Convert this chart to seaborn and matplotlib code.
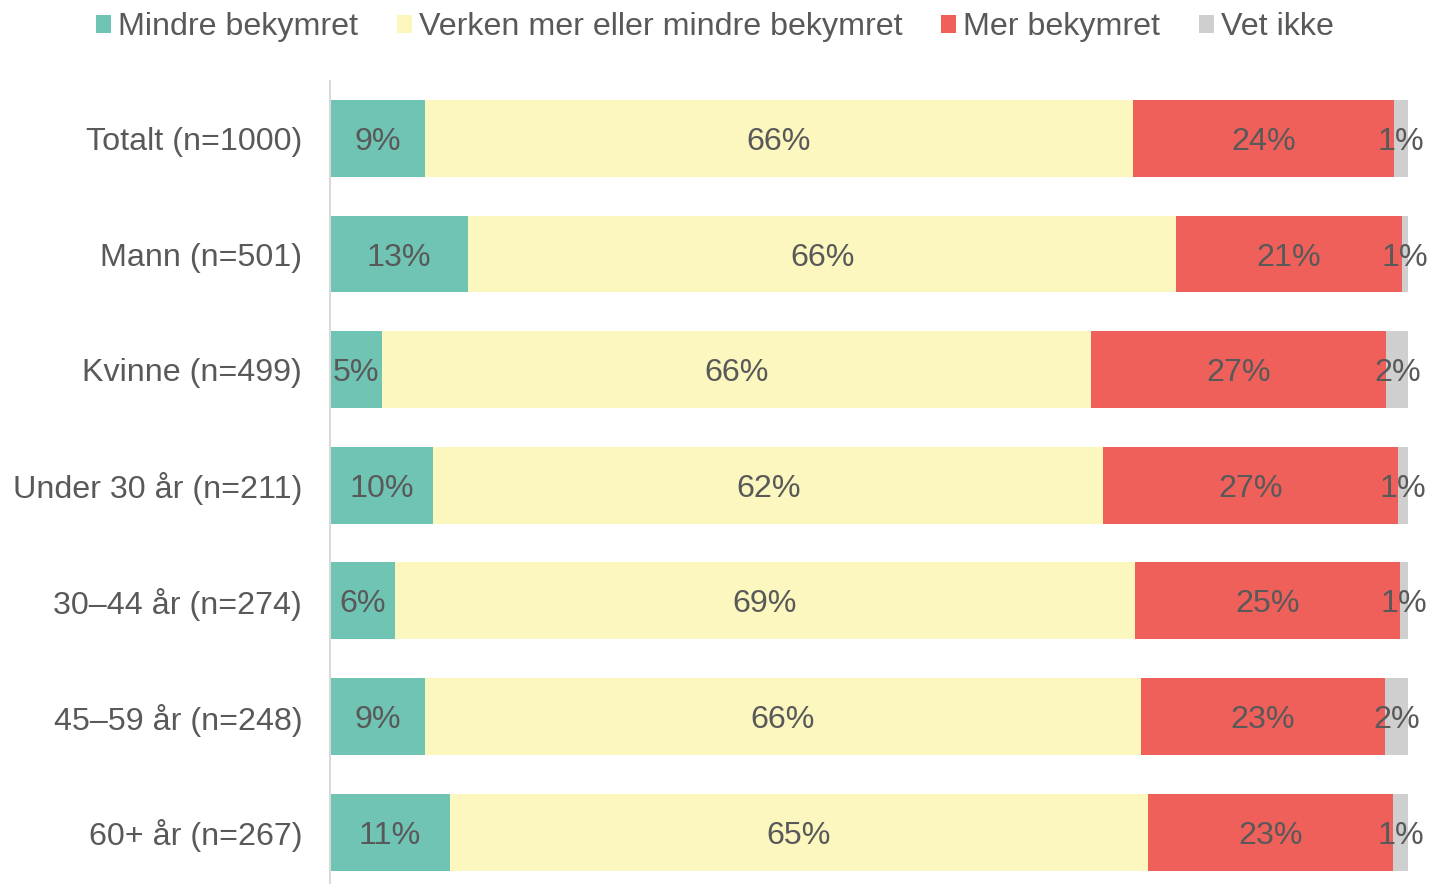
import matplotlib
matplotlib.use("Agg")
import matplotlib.pyplot as plt
import seaborn as sns
import numpy as np
import pandas as pd
from matplotlib.patches import Patch

categories = ["Totalt (n=1000)", "Mann (n=501)", "Kvinne (n=499)", "Under 30 år (n=211)",
              "30–44 år (n=274)", "45–59 år (n=248)", "60+ år (n=267)"]
series_names = ["Mindre bekymret", "Verken mer eller mindre bekymret", "Mer bekymret", "Vet ikke"]
mindre = [8.8, 12.8, 4.8, 9.6, 6.0, 8.8, 11.1]
verken = [65.7, 65.7, 65.8, 62.1, 68.7, 66.4, 64.8]
mer = [24.2, 20.9, 27.4, 27.4, 24.6, 22.7, 22.7]
vet_ikke = [1.3, 0.6, 2.0, 0.9, 0.7, 2.1, 1.4]
colors = ["#70C4B4", "#FBF7BE", "#F0605A", "#D0CFCF"]
text_color = "#595959"

sns.set_theme(style="white")
plt.rcParams["font.family"] = ["Liberation Sans", "DejaVu Sans"]

FS = 23.2
series = [mindre, verken, mer, vet_ikke]
cum = np.cumsum(np.array(series), axis=0)

fig = plt.figure(figsize=(14.3, 8.84), dpi=100)
ax = fig.add_axes([330/1430, -6/884, 1078/1430, 809.4/884])

# draw cumulative bars from the back (largest) to front
for i in range(len(series) - 1, -1, -1):
    d = pd.DataFrame({"cat": categories, "val": cum[i]})
    sns.barplot(data=d, x="val", y="cat", orient="h", color=colors[i],
                width=0.665, ax=ax, saturation=1, linewidth=0)

# labels centered in segments
for i, s in enumerate(series):
    starts = cum[i] - np.array(s)
    for j, v in enumerate(s):
        ax.text(starts[j] + v / 2, j, f"{round(v):.0f}%", ha="center", va="center_baseline",
                fontsize=FS, color=text_color)

ax.set_xlim(0, 100)
ax.set_ylim(6.5, -0.5)
ax.set_xlabel("")
ax.set_ylabel("")
ax.set_xticks([])
for sp in ["top", "right", "bottom"]:
    ax.spines[sp].set_visible(False)
ax.spines["left"].set_color("#D9D9D9")
ax.spines["left"].set_linewidth(1.5)
ax.tick_params(axis="y", length=0, pad=20, labelsize=FS, labelcolor=text_color)

handles = [Patch(facecolor=c, edgecolor="none") for c in colors]
fig.legend(handles, series_names, loc="upper center", bbox_to_anchor=(0.5, 1.019), ncol=4,
           frameon=False, fontsize=FS, handlelength=0.47, handleheight=0.47,
           handletextpad=0.22, columnspacing=1.2, labelcolor=text_color)

fig.savefig("out.png", dpi=100)
